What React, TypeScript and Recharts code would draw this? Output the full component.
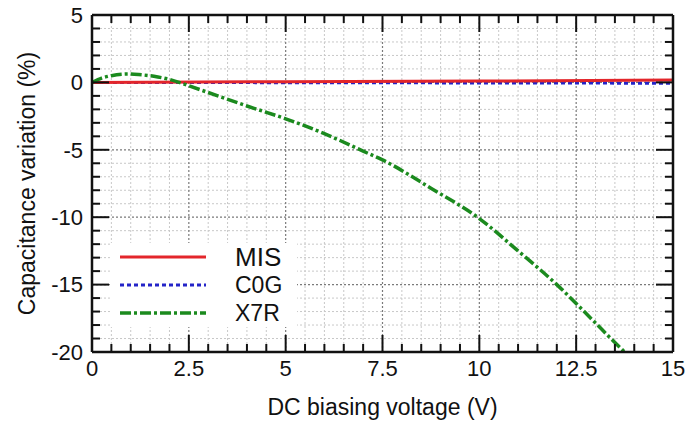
import { LineChart, Line, XAxis, YAxis, ReferenceLine } from "recharts";

// values
const x7rVoltage = [0, 0.25, 0.5, 0.9, 1.2, 1.6, 2.0, 2.5, 3, 4, 5, 6, 7, 7.5, 8.75, 10, 11, 12, 12.5, 13, 13.5, 13.75];
const x7rVariation = [0, 0.32, 0.5, 0.62, 0.58, 0.45, 0.22, -0.25, -0.75, -1.75, -2.7, -3.8, -5.1, -5.75, -7.85, -10.1, -12.5, -15.0, -16.4, -17.85, -19.3, -20];
const misVoltage = [0, 5, 10, 15];
const misVariation = [0, 0.05, 0.1, 0.18];
const c0gVoltage = [0, 5, 10, 15];
const c0gVariation = [0, -0.02, -0.04, -0.06];

const xTicks = [0, 2.5, 5, 7.5, 10, 12.5, 15];
const yTicks = [-20, -15, -10, -5, 0, 5];
const legendItems = ["MIS", "C0G", "X7R"];

const W = 689;
const H = 422;
const M = { top: 15, right: 16, left: 0, bottom: 0 };
const Y_AXIS_W = 92;
const X_AXIS_H = 70;
const PLOT_W = W - M.right - Y_AXIS_W;
const PLOT_H = H - M.top - X_AXIS_H;
const PX_X = 15 / PLOT_W;
const PX_Y = 25 / PLOT_H;

const FONT = "'Liberation Sans', Arial, sans-serif";
const RED = "#e3262b";
const BLUE = "#2424c8";
const GREEN = "#1b8a1e";

const toPoints = (xs: number[], ys: number[]) => xs.map((v, i) => ({ v, c: ys[i] }));

const xMinor: number[] = [];
for (let i = 1; i < 30; i++) xMinor.push(i * 0.5);
const yMinor: number[] = [];
for (let i = -19; i < 5; i++) yMinor.push(i);
const isXMajor = (v: number) => xTicks.includes(v);
const isYMajor = (v: number) => yTicks.includes(v);

export default function App() {
  const gridLines = [
    ...xMinor.filter((v) => !isXMajor(v)).map((v) => (
      <ReferenceLine key={`gx${v}`} x={v} stroke="#c8c8c8" strokeDasharray="2 2" strokeWidth={1} />
    )),
    ...yMinor.filter((v) => !isYMajor(v)).map((v) => (
      <ReferenceLine key={`gy${v}`} y={v} stroke="#c8c8c8" strokeDasharray="2 2" strokeWidth={1} />
    )),
    ...xTicks.slice(1, -1).map((v) => (
      <ReferenceLine key={`GX${v}`} x={v} stroke="#7a7a7a" strokeDasharray="2 2" strokeWidth={1.2} />
    )),
    ...yTicks.slice(1, -1).map((v) => (
      <ReferenceLine key={`GY${v}`} y={v} stroke="#7a7a7a" strokeDasharray="2 2" strokeWidth={1.2} />
    )),
  ];

  const tickMarks: any[] = [];
  xMinor.forEach((v) => {
    const len = isXMajor(v) ? 17 : 8;
    tickMarks.push(
      <ReferenceLine key={`tb${v}`} ifOverflow="visible" stroke="#111" strokeWidth={2}
        segment={[{ x: v, y: -20 }, { x: v, y: -20 + len * PX_Y }]} />,
      <ReferenceLine key={`tt${v}`} ifOverflow="visible" stroke="#111" strokeWidth={2}
        segment={[{ x: v, y: 5 }, { x: v, y: 5 - len * PX_Y }]} />
    );
  });
  yMinor.forEach((v) => {
    const len = isYMajor(v) ? 17 : 8;
    tickMarks.push(
      <ReferenceLine key={`tl${v}`} ifOverflow="visible" stroke="#111" strokeWidth={2}
        segment={[{ x: 0, y: v }, { x: len * PX_X, y: v }]} />,
      <ReferenceLine key={`tr${v}`} ifOverflow="visible" stroke="#111" strokeWidth={2}
        segment={[{ x: 15, y: v }, { x: 15 - len * PX_X, y: v }]} />
    );
  });

  const legendStyles = [
    { stroke: RED, dash: undefined, width: 3, size: 26 },
    { stroke: BLUE, dash: "4 3", width: 3, size: 23 },
    { stroke: GREEN, dash: "11 3 3 3", width: 3.5, size: 23 },
  ];

  return (
    <div style={{ position: "absolute", left: 0, top: 0, width: W, height: H, background: "#fff" }}>
      <LineChart width={W} height={H} margin={M}>
        <XAxis
          type="number"
          dataKey="v"
          domain={[0, 15]}
          ticks={xTicks}
          allowDataOverflow
          axisLine={false}
          tickLine={false}
          tickMargin={2}
          height={X_AXIS_H}
          tick={{ fill: "#111", fontSize: 22, fontFamily: FONT }}
          label={{
            value: "DC biasing voltage (V)",
            position: "insideBottom",
            offset: 7,
            style: { fill: "#111", fontSize: 23, fontFamily: FONT },
          }}
        />
        <YAxis
          type="number"
          dataKey="c"
          domain={[-20, 5]}
          ticks={yTicks}
          allowDataOverflow
          axisLine={false}
          tickLine={false}
          tickMargin={3}
          width={Y_AXIS_W}
          tick={{ fill: "#111", fontSize: 22, fontFamily: FONT }}
          label={{
            value: "Capacitance variation (%)",
            angle: -90,
            position: "insideLeft",
            offset: 27,
            style: { fill: "#111", fontSize: 23, fontFamily: FONT, textAnchor: "middle" },
          }}
        />
        {gridLines}
        <Line
          data={toPoints(c0gVoltage, c0gVariation)}
          dataKey="c"
          type="linear"
          stroke={BLUE}
          strokeWidth={3}
          strokeDasharray="4 3"
          dot={false}
          isAnimationActive={false}
        />
        <Line
          data={toPoints(misVoltage, misVariation)}
          dataKey="c"
          type="linear"
          stroke={RED}
          strokeWidth={3}
          dot={false}
          isAnimationActive={false}
        />
        <Line
          data={toPoints(x7rVoltage, x7rVariation)}
          dataKey="c"
          type="monotone"
          stroke={GREEN}
          strokeWidth={3.5}
          strokeDasharray="11 3 3 3"
          dot={false}
          isAnimationActive={false}
        />
        {tickMarks}
        <ReferenceLine x={0} ifOverflow="visible" stroke="#111" strokeWidth={2.5} />
        <ReferenceLine x={15} ifOverflow="visible" stroke="#111" strokeWidth={2.5} />
        <ReferenceLine y={-20} ifOverflow="visible" stroke="#111" strokeWidth={2.5} />
        <ReferenceLine y={5} ifOverflow="visible" stroke="#111" strokeWidth={2.5} />
      </LineChart>
      <div style={{ position: "absolute", left: 110, top: 243, width: 187, height: 84, background: "#fff" }}>
        <svg width={187} height={84} style={{ overflow: "visible" }}>
          {legendItems.map((name, i) => {
            const s = legendStyles[i];
            const y = 14 + i * 28;
            return (
              <g key={name}>
                <line x1={10} x2={96} y1={y} y2={y} stroke={s.stroke} strokeWidth={s.width} strokeDasharray={s.dash} />
                <text x={125} y={y} dy="0.36em" fontSize={s.size} fontFamily={FONT} fill="#111">
                  {name}
                </text>
              </g>
            );
          })}
        </svg>
      </div>
    </div>
  );
}
